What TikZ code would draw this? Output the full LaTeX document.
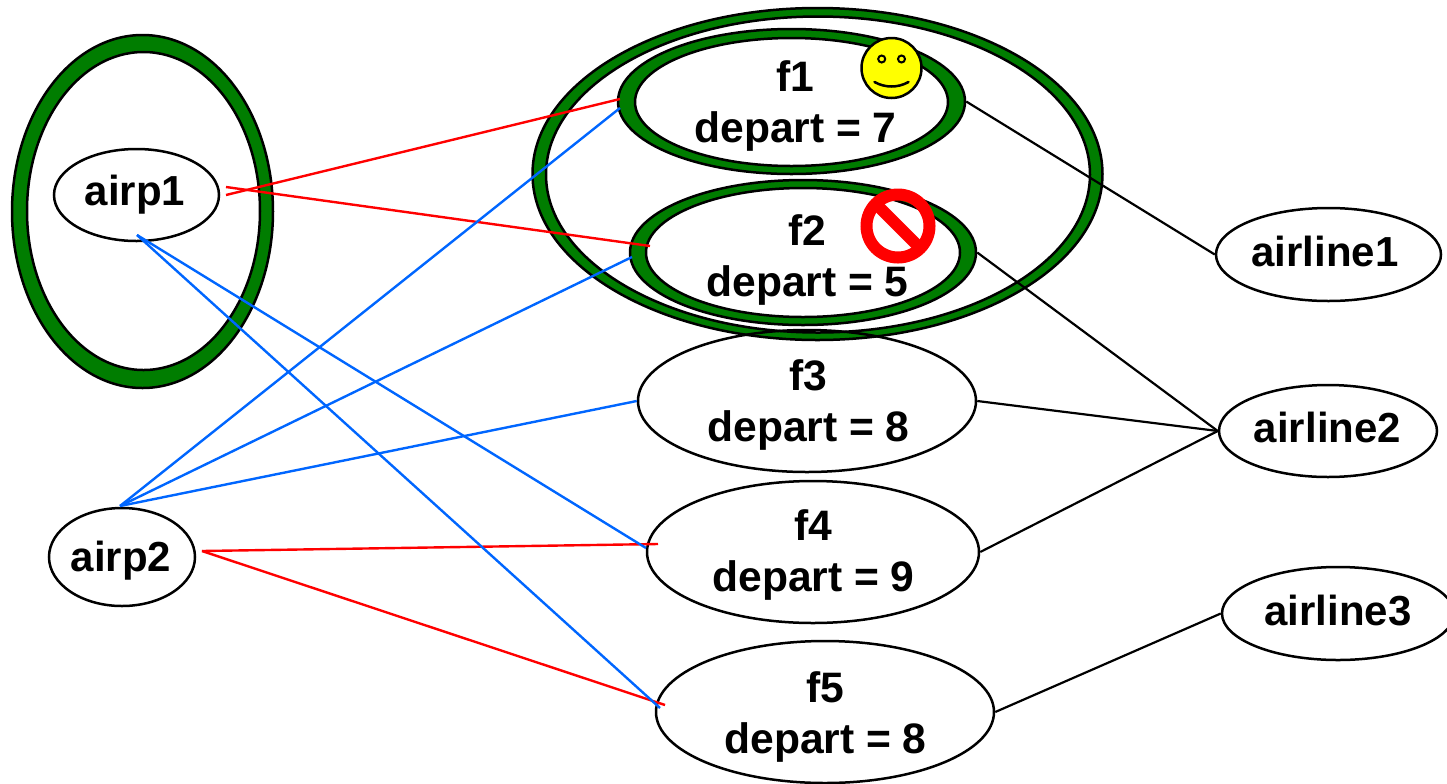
\documentclass[tikz,border=0pt]{standalone}
\usepackage{fontspec}
\setmainfont{Liberation Sans}
\usetikzlibrary{shapes.geometric}
\newlength{\du}
\setlength{\du}{0.5pt}
\definecolor{ringgreen}{rgb}{0.000000, 0.490000, 0.000000}
\definecolor{linered}{rgb}{1.000000, 0.000000, 0.000000}
\definecolor{lineblue}{rgb}{0.000000, 0.400000, 1.000000}
\definecolor{smileyellow}{rgb}{1.000000, 1.000000, 0.000000}
\tikzset{
  ellipsenode/.style={ellipse,draw=black,line width=1.25pt,inner sep=0pt},
  ringshape/.style={draw=black,line width=1.25pt,fill=ringgreen,even odd rule},
  ringnode/.style={ellipse,draw=black,line width=1.25pt,fill=ringgreen,inner sep=0pt},
  flighttext/.style={inner sep=0pt,align=center,font=\fontsize{21.3}{25.5}\selectfont\bfseries},
  nametext/.style={inner sep=0pt,font=\fontsize{21}{25.5}\selectfont\bfseries},
  redline/.style={draw=linered,line width=1.2pt},
  blueline/.style={draw=lineblue,line width=1.2pt},
  blackline/.style={draw=black,line width=1.1pt},
}
\begin{document}
\begin{tikzpicture}
\useasboundingbox (0\du,0\du) rectangle (1447\du,-783\du);
% big rings
\path[ringshape] (142.5\du,-211.5\du) ellipse ({130.5\du} and {176.5\du}) (143.5\du,-211\du) ellipse ({116.5\du} and {159\du});
\path[ringshape] (817.5\du,-174\du) ellipse ({285\du} and {166\du}) (818\du,-174.5\du) ellipse ({272\du} and {158\du});
% flights
\node[ringnode,minimum width=347\du,minimum height=145\du] (f1ring) at (791.5\du,-101.5\du){};
\node[ringnode,minimum width=346\du,minimum height=145\du] (f2ring) at (803\du,-252.5\du){};
\node[ellipsenode,fill=white,minimum width=313\du,minimum height=128\du] (f1) at (791.5\du,-102\du){};
\node[flighttext] (f1text) at (795.5\du,-106\du){f1\\depart = 7};
\node[ellipsenode,fill=white,minimum width=314\du,minimum height=129\du] (f2) at (803\du,-252.5\du){};
\node[flighttext] (f2text) at (807.5\du,-260\du){f2\\depart = 5};
\node[ellipsenode,minimum width=338\du,minimum height=142\du] (f3) at (807\du,-401\du){};
\node[flighttext] (f3text) at (808.5\du,-405\du){f3\\depart = 8};
\node[ellipsenode,minimum width=332\du,minimum height=142\du] (f4) at (813\du,-552\du){};
\node[flighttext] (f4text) at (813.5\du,-555\du){f4\\depart = 9};
\node[ellipsenode,minimum width=338\du,minimum height=142\du] (f5) at (825\du,-712\du){};
\node[flighttext] (f5text) at (825.5\du,-716.5\du){f5\\depart = 8};
% airports
\node[ellipsenode,minimum width=165\du,minimum height=92\du] (airp1) at (136.5\du,-195\du){};
\node[nametext] (airp1text) at (135\du,-195\du){airp1};
\node[ellipsenode,minimum width=146\du,minimum height=98\du] (airp2) at (122\du,-557\du){};
\node[nametext] (airp2text) at (121\du,-561\du){airp2};
% airlines
\node[ellipsenode,minimum width=225\du,minimum height=93\du] (airline1) at (1328.5\du,-254.5\du){};
\node[nametext] (airline1text) at (1325\du,-251.5\du){airline1};
\node[ellipsenode,minimum width=218\du,minimum height=92\du] (airline2) at (1328\du,-431\du){};
\node[nametext] (airline2text) at (1327.5\du,-427\du){airline2};
\node[ellipsenode,minimum width=232\du,minimum height=93\du] (airline3) at (1338\du,-613.5\du){};
\node[nametext] (airline3text) at (1338\du,-610.5\du){airline3};
% free ends of the connectors
\coordinate (airp1top) at (226\du,-187\du);
\coordinate (airp1low) at (226\du,-195\du);
\coordinate (airp1foot) at (137\du,-235\du);
\coordinate (airp2top) at (120\du,-506\du);
\coordinate (airp2side) at (202\du,-551\du);
\coordinate (f1redend) at (620\du,-99\du);
\coordinate (f1blueend) at (620\du,-108\du);
\coordinate (f2redend) at (650\du,-246\du);
\coordinate (f2blueend) at (632\du,-257\du);
\coordinate (f4redend) at (658\du,-544\du);
\coordinate (f4blueend) at (646\du,-548\du);
\coordinate (f5redend) at (665\du,-705\du);
\coordinate (f5blueend) at (660\du,-708\du);
% red connectors
\draw[redline] (airp1low)--(f1redend);
\draw[redline] (airp1top)--(f2redend);
\draw[redline] (airp2side)--(f4redend);
\draw[redline] (airp2side)--(f5redend);
% blue connectors
\draw[blueline] (airp1foot)--(f4blueend);
\draw[blueline] (airp1foot)--(f5blueend);
\draw[blueline] (airp2top)--(f1blueend);
\draw[blueline] (airp2top)--(f2blueend);
\draw[blueline] (airp2top)--(f3.west);
% black connectors
\draw[blackline] (f1ring.east)--(airline1.west);
\draw[blackline] (f2ring.east)--(airline2.west);
\draw[blackline] (f3.east)--(airline2.west);
\draw[blackline] (f4.east)--(airline2.west);
\draw[blackline] (f5.east)--(airline3.west);
% smiley on f1
\draw[draw=black,line width=1.25pt,fill=smileyellow] (891.5\du,-68\du) circle (30\du);
\draw[draw=black,line width=1pt] (881.7\du,-59\du) circle (3.5\du);
\draw[draw=black,line width=1pt] (901.5\du,-59\du) circle (3.5\du);
\draw[draw=black,line width=1.25pt,line cap=round] (874.5\du,-82\du) .. controls (885\du,-88\du) and (898\du,-88\du) .. (908.5\du,-82\du);
% forbidden sign on f2
\draw[draw=linered,line width=6pt] (898\du,-226\du) circle (31.5\du);
\draw[draw=linered,line width=6pt] (875.7\du,-203.7\du)--(920.3\du,-248.3\du);
\end{tikzpicture}
\end{document}
